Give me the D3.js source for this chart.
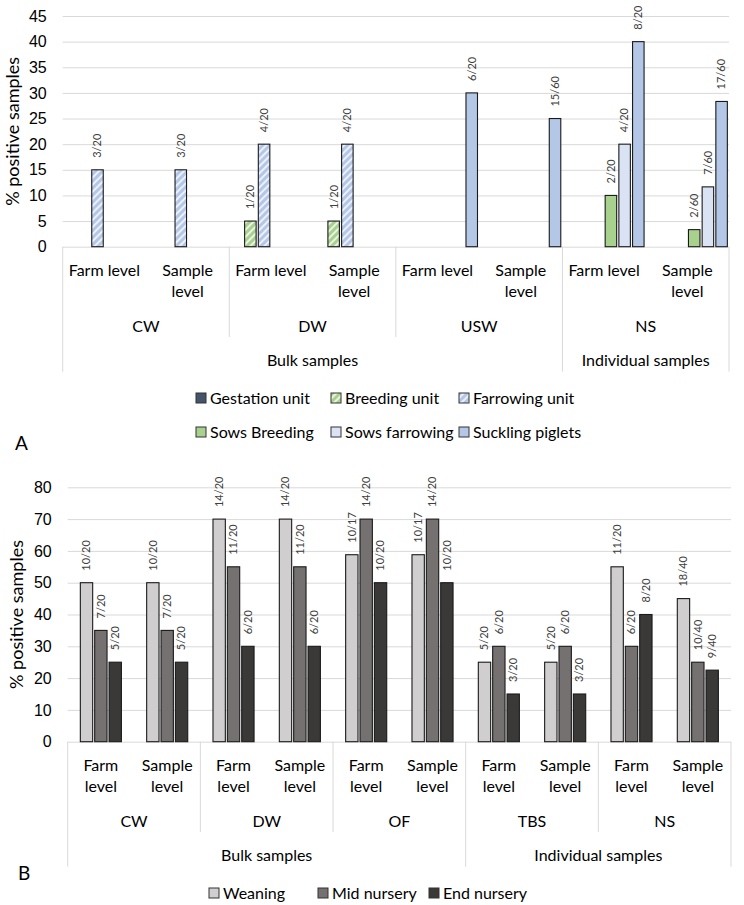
<!DOCTYPE html>
<html>
<head>
<meta charset="utf-8">
<title>Positive samples by stage</title>
<script src="https://d3js.org/d3.v7.min.js"></script>
<style>
  body { margin: 0; background: #fff; }
  svg { font-family: Lato, "Open Sans", sans-serif; }
  .grid line { stroke: #d9d9d9; stroke-width: 1; }
  .grid text { font-size: 16px; fill: #000; }
  .cat line { stroke: #d9d9d9; stroke-width: 1; }
  .cat text { font-size: 16px; fill: #000; }
  .barlab { font-size: 11px; fill: #404040; }
  .legend text { font-size: 16px; fill: #000; }
</style>
</head>
<body>
<svg id="fig" width="744" height="905"></svg>
<script>
// ---------- chart A data ----------
const groupsA = ["CW", "DW", "USW", "NS"];
const outerA = ["Bulk samples", "Bulk samples", "Bulk samples", "Individual samples"];
const levels = ["Farm level", "Sample level"];
const seriesA = ["Gestation unit", "Breeding unit", "Farrowing unit",
                 "Sows Breeding", "Sows farrowing", "Suckling piglets"];
const gestationUnit   = [null, null, null, null, null, null, null, null];
const breedingUnit    = [null, null, 5, 5, null, null, null, null];
const farrowingUnit   = [15, 15, 20, 20, null, null, null, null];
const sowsBreeding    = [null, null, null, null, null, null, 10, 3.33];
const sowsFarrowing   = [null, null, null, null, null, null, 20, 11.67];
const sucklingPiglets = [null, null, null, null, 30, 25, 40, 28.33];
const gestationLab = [null, null, null, null, null, null, null, null];
const breedingLab  = [null, null, "1/20", "1/20", null, null, null, null];
const farrowingLab = ["3/20", "3/20", "4/20", "4/20", null, null, null, null];
const sowsBreedLab = [null, null, null, null, null, null, "2/20", "2/60"];
const sowsFarrLab  = [null, null, null, null, null, null, "4/20", "7/60"];
const sucklingLab  = [null, null, null, null, "6/20", "15/60", "8/20", "17/60"];
const yTicksA = [0, 5, 10, 15, 20, 25, 30, 35, 40, 45];

// ---------- chart B data ----------
const groupsB = ["CW", "DW", "OF", "TBS", "NS"];
const outerB = ["Bulk samples", "Bulk samples", "Bulk samples", "Individual samples", "Individual samples"];
const seriesB = ["Weaning", "Mid nursery", "End nursery"];
const weaning    = [50, 50, 70, 70, 58.8, 58.8, 25, 25, 55, 45];
const midNursery = [35, 35, 55, 55, 70, 70, 30, 30, 30, 25];
const endNursery = [25, 25, 30, 30, 50, 50, 15, 15, 40, 22.5];
const weaningLab = ["10/20", "10/20", "14/20", "14/20", "10/17", "10/17", "5/20", "5/20", "11/20", "18/40"];
const midLab     = ["7/20", "7/20", "11/20", "11/20", "14/20", "14/20", "6/20", "6/20", "6/20", "10/40"];
const endLab     = ["5/20", "5/20", "6/20", "6/20", "10/20", "10/20", "3/20", "3/20", "8/20", "9/40"];
const yTicksB = [0, 10, 20, 30, 40, 50, 60, 70, 80];

const svg = d3.select("#fig");
svg.append("rect").attr("width", 744).attr("height", 905).attr("fill", "#fff");

// hatch patterns (wide upward diagonal)
const defs = svg.append("defs");
function hatch(id, base) {
  const p = defs.append("pattern").attr("id", id)
    .attr("patternUnits", "userSpaceOnUse")
    .attr("width", 5).attr("height", 5)
    .attr("patternTransform", "rotate(45)");
  p.append("rect").attr("width", 5).attr("height", 5).attr("fill", base);
  p.append("rect").attr("width", 2).attr("height", 5).attr("fill", "#fff").attr("opacity", 0.75);
}
hatch("hatchBlue", "#b4c7e7");
hatch("hatchGreen", "#a9d18e");

function wrap(sel, width) {
  sel.each(function() {
    const t = d3.select(this);
    const words = t.text().split(" ");
    const x = t.attr("x");
    t.text(null);
    let line = [], n = 0;
    let ts = t.append("tspan").attr("x", x).attr("dy", "0.35em");
    words.forEach(w => {
      line.push(w);
      ts.text(line.join(" "));
      if (ts.node().getComputedTextLength() > width && line.length > 1) {
        line.pop();
        ts.text(line.join(" "));
        line = [w];
        n++;
        ts = t.append("tspan").attr("x", x).attr("dy", "1.36em").text(w);
      }
    });
  });
}

function drawChart(o) {
  const g = svg.append("g");
  const keys = [];
  o.groups.forEach(gr => levels.forEach(l => keys.push(gr + "|" + l)));

  const x = d3.scaleBand().domain(keys).range([o.x0, o.x1]).padding(0);
  const xs = d3.scaleBand().domain(o.series).range([0, x.bandwidth()])
    .paddingInner(o.pin).paddingOuter(o.pout);
  const y = d3.scaleLinear().domain([0, o.yMax]).range([o.yB, o.yT]);

  // gridlines + y labels
  g.append("g").attr("class", "grid")
    .attr("transform", `translate(${o.x0},0)`)
    .call(d3.axisLeft(y).tickValues(o.yTicks).tickSize(-(o.x1 - o.x0)).tickPadding(16))
    .call(a => a.select(".domain").remove());

  // y title
  g.append("text")
    .attr("transform", `translate(${o.titleX},${(o.yT + o.yB) / 2}) rotate(-90)`)
    .attr("text-anchor", "middle").attr("dy", "0.35em")
    .style("font-size", "18px").text("% positive samples");

  // bars
  o.series.forEach((s, si) => {
    const vals = o.values[si], labs = o.labels[si];
    keys.forEach((k, ki) => {
      const v = vals[ki];
      if (v == null) return;
      g.append("rect")
        .attr("x", x(k) + xs(s)).attr("y", y(v))
        .attr("width", xs.bandwidth()).attr("height", y(0) - y(v))
        .attr("fill", o.fills[si]).attr("stroke", "#1a1a1a").attr("stroke-width", 1.1);
      if (labs[ki]) {
        g.append("text").attr("class", "barlab")
          .attr("transform", `translate(${x(k) + xs(s) + xs.bandwidth() / 2},${y(v) - 12}) rotate(-90)`)
          .attr("dy", "0.35em").text(labs[ki]);
      }
    });
  });

  // multi-level category axis
  const cat = g.append("g").attr("class", "cat");
  const y0 = y(0);
  cat.selectAll("text.lvl").data(keys).join("text").attr("class", "lvl")
    .attr("x", k => x(k) + x.bandwidth() / 2).attr("y", y0 + 23.3)
    .attr("text-anchor", "middle")
    .text(k => k.split("|")[1])
    .call(wrap, x.bandwidth() - 6);

  o.groups.forEach((gr, gi) => {
    const xa = x(gr + "|" + levels[0]);
    const xb = x(gr + "|" + levels[1]) + x.bandwidth();
    cat.append("text").attr("x", (xa + xb) / 2).attr("y", y0 + 79.3)
      .attr("dy", "0.35em").attr("text-anchor", "middle").text(gr);
    const full = gi === 0 || o.outer[gi] !== o.outer[gi - 1];
    cat.append("line").attr("x1", xa).attr("x2", xa)
      .attr("y1", y0).attr("y2", y0 + (full ? 125 : 90.3));
  });
  cat.append("line").attr("x1", o.x1).attr("x2", o.x1).attr("y1", y0).attr("y2", y0 + 125);

  // outer spans
  const spans = [];
  o.outer.forEach((name, gi) => {
    const last = spans[spans.length - 1];
    if (last && last.name === name) last.end = gi; else spans.push({name, start: gi, end: gi});
  });
  spans.forEach(sp => {
    const xa = x(o.groups[sp.start] + "|" + levels[0]);
    const xb = x(o.groups[sp.end] + "|" + levels[1]) + x.bandwidth();
    cat.append("text").attr("x", (xa + xb) / 2).attr("y", y0 + 114)
      .attr("dy", "0.35em").attr("text-anchor", "middle").text(sp.name);
  });

  // panel letter
  g.append("text").attr("x", o.letterX).attr("y", o.letterY).attr("dy", "0.35em")
    .style("font-size", "19px").text(o.letter);

  // legend
  const lg = g.append("g").attr("class", "legend");
  o.series.forEach((s, si) => {
    const row = Math.floor(si / o.legendCols.length);
    const col = si % o.legendCols.length;
    const lx = o.legendCols[col], ly = o.legendY + row * o.legendRow;
    lg.append("rect").attr("x", lx).attr("y", ly - 5).attr("width", 10).attr("height", 10)
      .attr("fill", o.fills[si]).attr("stroke", "#333").attr("stroke-width", 1);
    lg.append("text").attr("x", lx + 14).attr("y", ly).attr("dy", "0.35em").text(s);
  });
}

drawChart({
  groups: groupsA, outer: outerA, series: seriesA,
  values: [gestationUnit, breedingUnit, farrowingUnit, sowsBreeding, sowsFarrowing, sucklingPiglets],
  labels: [gestationLab, breedingLab, farrowingLab, sowsBreedLab, sowsFarrLab, sucklingLab],
  fills: ["#44546a", "url(#hatchGreen)", "url(#hatchBlue)", "#a9d18e", "#dae3f3", "#b4c7e7"],
  yMax: 45, yTicks: yTicksA,
  x0: 62.7, x1: 729, yT: 16, yB: 246.7, pin: 0.16, pout: 0.12,
  titleX: 13, letter: "A", letterX: 15, letterY: 443,
  legendCols: [196, 331, 459], legendY: 398, legendRow: 34
});

drawChart({
  groups: groupsB, outer: outerB, series: seriesB,
  values: [weaning, midNursery, endNursery],
  labels: [weaningLab, midLab, endLab],
  fills: ["#d0cece", "#767171", "#3b3838"],
  yMax: 80, yTicks: yTicksB,
  x0: 67.7, x1: 731, yT: 487.3, yB: 741.7, pin: 0.14, pout: 0.88,
  titleX: 17, letter: "B", letterX: 18, letterY: 873,
  legendCols: [209, 318, 429], legendY: 893, legendRow: 0
});
</script>
</body>
</html>
